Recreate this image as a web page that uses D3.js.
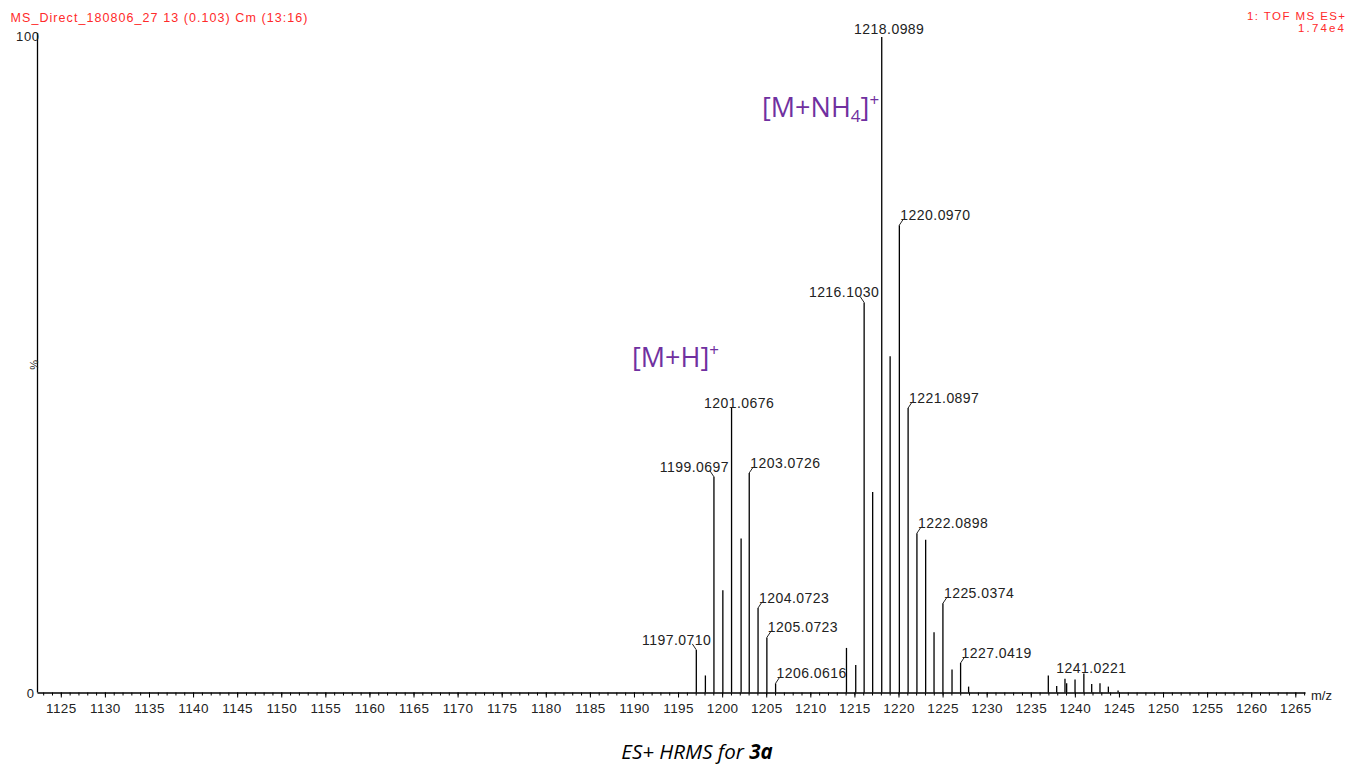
<!DOCTYPE html>
<html>
<head>
<meta charset="utf-8">
<script src="https://cdn.jsdelivr.net/npm/d3@7"></script>
<style>
  body { margin: 0; background: #fff; }
  svg { display: block; font-family: "Liberation Sans", Arial, sans-serif; }
</style>
</head>
<body>
<svg id="chart" width="1349" height="766"></svg>
<script>
// peak list (m/z, % of base peak)
const mz = [
  1197.0710, 1198.10, 1199.0697, 1200.08, 1201.0676, 1202.15, 1203.0726,
  1204.0723, 1205.0723, 1206.0616, 1214.10, 1215.15, 1216.1030, 1217.07,
  1218.0989, 1219.05, 1220.0970, 1221.0897, 1222.0898, 1223.08, 1224.03,
  1225.0374, 1226.07, 1227.0419, 1227.95, 1236.99, 1237.94, 1238.88,
  1239.07, 1240.02, 1241.0221, 1241.91, 1242.85, 1243.80, 1244.90
];
const intensity = [
  6.5, 2.6, 32.9, 15.6, 43.4, 23.5, 33.5,
  12.9, 8.4, 1.4, 6.8, 4.2, 59.5, 30.6,
  100, 51.3, 71.3, 43.4, 24.3, 23.3, 9.2,
  13.6, 3.5, 4.5, 0.9, 2.6, 1.0, 2.1,
  1.4, 2.0, 2.9, 1.3, 1.4, 0.9, 0.3
];
const labelledPeaks = [
  "1197.0710", "1199.0697", "1201.0676", "1203.0726", "1204.0723",
  "1205.0723", "1206.0616", "1216.1030", "1218.0989", "1220.0970",
  "1221.0897", "1222.0898", "1225.0374", "1227.0419", "1241.0221"
];
const xTickValues = [
  1125, 1130, 1135, 1140, 1145, 1150, 1155, 1160, 1165, 1170, 1175, 1180,
  1185, 1190, 1195, 1200, 1205, 1210, 1215, 1220, 1225, 1230, 1235, 1240,
  1245, 1250, 1255, 1260, 1265
];
const yTickLabels = ["0", "100"];

// where each label sits relative to its stick (layout only)
const labelSide = {
  "1197.0710": "left", "1199.0697": "left", "1201.0676": "mid",
  "1203.0726": "right", "1204.0723": "right", "1205.0723": "right",
  "1206.0616": "right", "1216.1030": "left", "1218.0989": "mid",
  "1220.0970": "right", "1221.0897": "right", "1222.0898": "right",
  "1225.0374": "right", "1227.0419": "right", "1241.0221": "mid"
};

const svg = d3.select("#chart");
const fmt = d3.format(".4f");

const x = d3.scaleLinear().domain([1122.3, 1266.1]).range([37, 1305]);
const y = d3.scaleLinear().domain([0, 100]).range([692.5, 37]);

const peaks = mz.map((m, i) => ({ mz: m, val: intensity[i], label: fmt(m) }));

// header texts
svg.append("text")
  .attr("x", 10.5).attr("y", 21.5)
  .attr("fill", "#ff2a2a").style("font-size", "12.5px")
  .attr("textLength", 297).attr("lengthAdjust", "spacing")
  .text("MS_Direct_180806_27 13 (0.103) Cm (13:16)");
svg.append("text")
  .attr("x", 1247).attr("y", 20)
  .attr("fill", "#ff2a2a").style("font-size", "11.5px")
  .attr("textLength", 98).attr("lengthAdjust", "spacing")
  .text("1: TOF MS ES+");
svg.append("text")
  .attr("x", 1298).attr("y", 31.5)
  .attr("fill", "#ff2a2a").style("font-size", "11.5px")
  .attr("textLength", 46).attr("lengthAdjust", "spacing")
  .text("1.74e4");

// y axis (just a line and the two end labels)
svg.append("line")
  .attr("x1", 37.5).attr("x2", 37.5)
  .attr("y1", 33).attr("y2", y(0))
  .attr("stroke", "#000").attr("stroke-width", 1.3);
svg.append("text")
  .attr("x", 39).attr("y", y(100) + 4).attr("text-anchor", "end")
  .attr("fill", "#222").style("font-size", "13px")
  .attr("textLength", 23).attr("lengthAdjust", "spacing")
  .text(yTickLabels[1]);
svg.append("text")
  .attr("x", 34).attr("y", y(0) + 5).attr("text-anchor", "end")
  .attr("fill", "#222").style("font-size", "13px")
  .text(yTickLabels[0]);
svg.append("text")
  .attr("transform", `translate(38,${y(50)}) rotate(-90)`)
  .attr("text-anchor", "middle")
  .attr("fill", "#222").style("font-size", "11px")
  .text("%");

// x axis, minor ticks first then the labelled ones
const minor = d3.range(1123, 1267, 1);
svg.append("g")
  .attr("transform", `translate(0,${y(0)})`)
  .call(d3.axisBottom(x).tickValues(minor).tickSize(3).tickSizeOuter(0).tickFormat(""))
  .call((g) => g.select(".domain").remove())
  .call((g) => g.selectAll("line").attr("stroke", "#000"));

const xAxis = svg.append("g")
  .attr("transform", `translate(0,${y(0)})`)
  .call(d3.axisBottom(x).tickValues(xTickValues).tickFormat(d3.format("d"))
    .tickSize(5).tickSizeOuter(0).tickPadding(6));
xAxis.select(".domain").attr("stroke", "#000").attr("stroke-width", 1.3);
xAxis.selectAll("line").attr("stroke", "#000");
xAxis.selectAll("text")
  .attr("fill", "#222")
  .style("font-family", '"Liberation Sans", Arial, sans-serif')
  .style("font-size", "13.5px")
  .style("letter-spacing", "0.4px");

svg.append("text")
  .attr("x", 1311).attr("y", 700)
  .attr("fill", "#222").style("font-size", "13px")
  .text("m/z");

// sticks
svg.append("g")
  .selectAll("line")
  .data(peaks)
  .join("line")
  .attr("x1", (d) => x(d.mz)).attr("x2", (d) => x(d.mz))
  .attr("y1", y(0)).attr("y2", (d) => y(d.val))
  .attr("stroke", "#000").attr("stroke-width", 1.3);

// peak labels with their small leaders
const tagged = peaks.filter((d) => labelledPeaks.includes(d.label));
const tags = svg.append("g").selectAll("g").data(tagged).join("g");

tags.filter((d) => labelSide[d.label] !== "mid")
  .append("path")
  .attr("fill", "none").attr("stroke", "#222").attr("stroke-width", 1)
  .attr("d", (d) => {
    const px = x(d.mz), py = y(d.val);
    const s = labelSide[d.label] === "left" ? -1 : 1;
    return `M${px},${py} L${px + s * 4},${py - 6}`;
  });

tags.append("text")
  .attr("fill", "#222")
  .style("font-size", "14px")
  .style("letter-spacing", "0.45px")
  .attr("text-anchor", (d) => ({ left: "end", right: "start", mid: "middle" })[labelSide[d.label]])
  .attr("x", (d) => {
    const side = labelSide[d.label];
    if (side === "left") return x(d.mz) + 15;
    if (side === "right") return x(d.mz) + 1;
    return x(d.mz) + 7.5;
  })
  .attr("y", (d) => {
    const side = labelSide[d.label];
    return y(d.val) - (side === "mid" ? (d.val > 95 ? 3 : 0) : 5);
  })
  .text((d) => d.label);

// adduct annotations
const note = svg.append("g")
  .attr("fill", "#7030a0")
  .style("font-family", '"Open Sans", "Noto Sans", sans-serif');

const nh4 = note.append("text").attr("x", 762).attr("y", 117).style("font-size", "27px");
nh4.append("tspan").text("[M+NH");
nh4.append("tspan").attr("dy", 5).style("font-size", "17px").text("4");
nh4.append("tspan").attr("dy", -5).text("]");
nh4.append("tspan").attr("dy", -11).style("font-size", "17px").text("+");

const mh = note.append("text").attr("x", 632).attr("y", 367).style("font-size", "27px");
mh.append("tspan").text("[M+H]");
mh.append("tspan").attr("dy", -11).style("font-size", "17px").text("+");

// caption
const cap = svg.append("text")
  .attr("x", 697).attr("y", 759).attr("text-anchor", "middle")
  .attr("fill", "#000")
  .style("font-family", '"Open Sans", "Noto Sans", sans-serif')
  .style("font-size", "20.5px").style("font-style", "italic");
cap.append("tspan").text("ES+ HRMS for ");
cap.append("tspan").style("font-weight", "bold").text("3a");
</script>
</body>
</html>
